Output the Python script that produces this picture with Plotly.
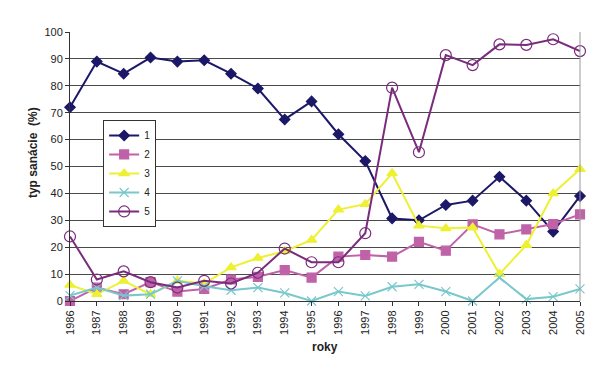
import plotly.graph_objects as go

years = list(range(1986, 2006))
s1 = [72, 89, 84.5, 90.5, 89, 89.5, 84.5, 79, 67.5, 74.2, 62, 52, 30.7, 30, 35.7, 37.3, 46.2, 37.3, 25.8, 39]
s2 = [0, 5, 2.5, 7, 3.5, 4.5, 8, 9, 11.5, 8.7, 16.5, 17.1, 16.5, 22, 18.7, 28.5, 24.8, 26.6, 28.6, 32.2]
s3 = [6, 2.5, 7.5, 2.5, 7.5, 6.5, 12.5, 16, 18.5, 22.7, 34, 36, 47.5, 28, 27, 27.3, 10, 20.8, 40, 49]
s4 = [2, 5, 2, 2.5, 7.5, 5.5, 4, 5, 3, 0, 3.5, 1.9, 5.3, 6.2, 3.5, 0, 8.7, 0.7, 1.6, 4.5]
s5 = [24, 8, 11, 7, 5, 7.5, 6.5, 10.5, 19.5, 14.4, 14.4, 25.2, 79.3, 55.3, 91.4, 87.7, 95.4, 95.2, 97.3, 92.9]
names = ["1", "2", "3", "4", "5"]

series = [s1, s2, s3, s4, s5]
colors = ["#1c1868", "#c062a8", "#eef032", "#78c8cc", "#7a2c7c"]
symbols = ["diamond", "square", "triangle-up", "x-thin", "circle-open"]
sizes = [8, 9, 9, 9, 11]

fig = go.Figure()
for name, vals, c, sym, sz in zip(names, series, colors, symbols, sizes):
    fig.add_trace(go.Scatter(
        x=years, y=vals, name=name, mode="lines+markers",
        line=dict(color=c, width=2),
        marker=dict(symbol=sym, size=sz, color=c,
                    line=dict(color=c, width=1.2)),
        cliponaxis=False,
    ))

fig.update_layout(
    width=596, height=359,
    margin=dict(l=62, r=24, t=24, b=66),
    paper_bgcolor="white", plot_bgcolor="white",
    font=dict(family="Liberation Sans, Arial, sans-serif", size=11, color="#222"),
    showlegend=True,
    legend=dict(x=0.065, y=0.673, xanchor="left", yanchor="top",
                bordercolor="#333", borderwidth=1, bgcolor="white",
                font=dict(size=10), tracegroupgap=0, itemwidth=30),
    xaxis=dict(range=[1986, 2005], tickmode="array", tickvals=years,
               ticktext=[str(y) for y in years], tickangle=-90,
               showgrid=False, showline=True, linecolor="#333", linewidth=1,
               ticks="outside", ticklen=4, tickcolor="#333", zeroline=False,
               automargin=False),
    yaxis=dict(range=[0, 100], dtick=10, showgrid=True, gridcolor="#4a4a4a",
               gridwidth=1, showline=True, linecolor="#333", linewidth=1,
               ticks="outside", ticklen=4, tickcolor="#333", zeroline=False,
               automargin=False),
    shapes=[dict(type="line", xref="paper", yref="paper", x0=1, x1=1, y0=0, y1=1,
                 line=dict(color="#999", width=1))],
    annotations=[
        dict(text="<b>roky</b>", xref="paper", yref="paper", x=0.5, y=0,
             yshift=-46, showarrow=False, font=dict(size=12), xanchor="center",
             yanchor="middle"),
        dict(text="<b>typ sanácie  (%)</b>", xref="paper", yref="paper", x=0,
             xshift=-37, y=0.55, textangle=-90, showarrow=False,
             font=dict(size=12), xanchor="center", yanchor="middle"),
    ],
)

fig.write_html("out.html")
